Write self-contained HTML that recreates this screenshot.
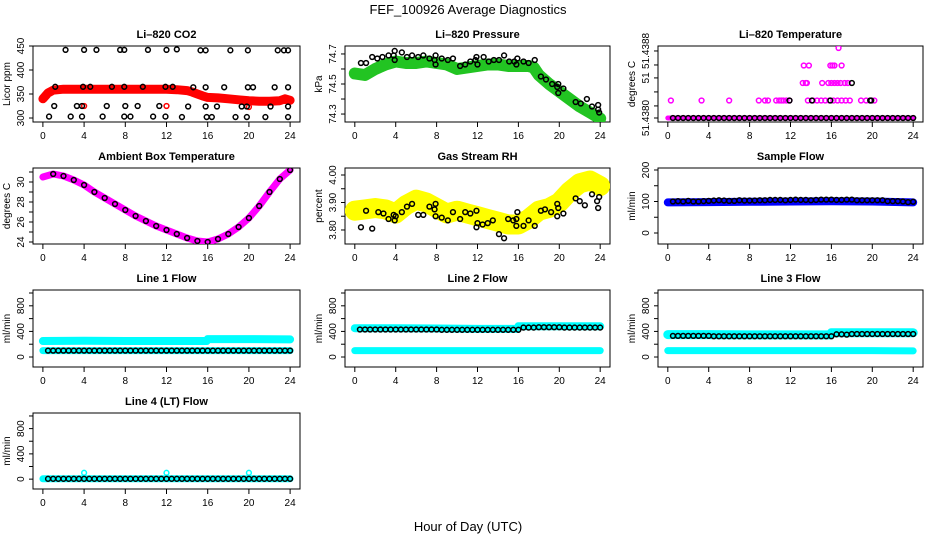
<!DOCTYPE html>
<html><head><meta charset="utf-8">
<style>
html,body{margin:0;padding:0;background:#fff;}
svg{display:block;font-family:"Liberation Sans",Arial,sans-serif;}
</style></head>
<body>
<svg id="chart" width="936" height="540" viewBox="0 0 936 540" xmlns="http://www.w3.org/2000/svg">
<rect width="936" height="540" fill="#fff"/>
<text x="468" y="14" font-size="13" text-anchor="middle">FEF_100926  Average Diagnostics</text>
<text x="468" y="531" font-size="13" text-anchor="middle">Hour of Day (UTC)</text>
</svg>
<script>
// ---------- shared data ----------
const xTicks = [0,4,8,12,16,20,24];
const T = [0.5,1,1.5,2,2.5,3,3.5,4,4.5,5,5.5,6,6.5,7,7.5,8,8.5,9,9.5,10,10.5,11,11.5,12,12.5,13,13.5,14,14.5,15,15.5,16,16.5,17,17.5,18,18.5,19,19.5,20,20.5,21,21.5,22,22.5,23,23.5,24];
const H = [0,1,2,3,4,5,6,7,8,9,10,11,12,13,14,15,16,17,18,19,20,21,22,23,24];

// CO2
const co2BandX = [0,0.5,1,2,4,6,8,10,12,13,14,14.5,15,15.5,16,17,18,19,20,21,22,23,23.5,24];
const co2BandY = [340,352,358,360,360,360,360,360,360,359,357,354,350,346,343,342,340,338,336,335,335,336,340,337];
const co2BlkX = [2.2,4,5.2,7.5,7.9,10.2,12,13,15.3,15.8,18.2,19.9,22.8,23.4,23.8,
 1.2,3.9,4.6,6.7,7.9,9.7,11.9,12.6,14.6,15.8,17.6,19.9,20.4,22.5,23.8,
 1.1,3.3,3.8,6.2,8,9.2,11.3,14.1,15.8,16.9,19.3,19.8,22.1,23.8,
 0.6,2.7,3.8,5.8,7.9,8.5,10.7,11.9,13.5,15.9,16.4,18.7,19.8,21.6,23.8];
const co2BlkY = [442,442,442,442,442,442,442,443,441,441,441,441,441,441,441,
 365,365,365,365,365,365,365,365,364,364,364,364,364,364,364,
 325,325,325,325,325,325,325,324,324,324,324,324,324,324,
 303,303,303,303,303,303,303,303,302,302,302,302,302,302,302];
const co2RedX = [4,12,20];
const co2RedY = [325,325,323];

// Pressure
const prBandX = [0,1,2,3,4,5,6,7,8,9,10,11,12,13,14,15,16,17,17.5,18,19,20,21,22,23,24];
const prBandY = [74.57,74.56,74.60,74.63,74.65,74.64,74.64,74.65,74.64,74.63,74.60,74.61,74.62,74.63,74.63,74.62,74.62,74.62,74.61,74.56,74.50,74.45,74.40,74.35,74.31,74.27];
const prBlkX = [0.6,1.1,1.7,2.2,2.7,3.3,3.8,3.9,3.9,4.6,5.1,5.6,6.2,6.7,7.3,7.8,7.9,7.9,8.5,9.1,9.6,10.3,10.8,11.3,11.8,11.9,12,12.6,13.1,13.6,14.1,14.6,15.1,15.6,15.8,15.9,16.5,17,17.6,18.2,18.7,19.3,19.8,19.9,19.9,20.4,21.6,22.1,22.7,23.2,23.8,23.8,23.9];
const prBlkY = [74.64,74.64,74.68,74.67,74.68,74.69,74.69,74.72,74.66,74.71,74.68,74.69,74.68,74.69,74.67,74.66,74.69,74.63,74.67,74.66,74.67,74.62,74.63,74.65,74.66,74.68,74.63,74.68,74.65,74.66,74.66,74.69,74.65,74.65,74.63,74.67,74.65,74.64,74.66,74.55,74.53,74.50,74.48,74.50,74.44,74.47,74.38,74.37,74.40,74.35,74.36,74.33,74.31];

// Li-820 temperature (level index 0..4)
const ltTickVals = [0,0.69,1.49,2.29,3.03,3.83];
const ltTickLabels = ["51.4380","","","51","","51.4388"];
const ltBaseX = [0,24];
const ltBaseY = [0,0];
const ltMagX = [0.3,3.3,6,8.9,9.5,9.8,10.6,10.9,11.1,11.3,11.6,11.9,13.7,14.2,14.6,15,15.4,15.8,16.2,16.6,17,17.4,17.8,18.9,19.4,19.8,20.2,
 13.2,13.5,13.6,15.1,15.7,16,16.3,16.6,16.9,17.3,17.6,
 13.3,13.8,15.9,16.1,16.3,17.0,
 16.7];
const ltMagY = [1,1,1,1,1,1,1,1,1,1,1,1,1,1,1,1,1,1,1,1,1,1,1,1,1,1,1,
 2,2,2,2,2,2,2,2,2,2,2,
 3,3,3,3,3,3,
 4];
const ltBlkY = [0,0,0,0,0,0,0,0,0,0,0,0,0,0,0,0,0,0,0,0,0,0,0,0,0,0,0,0,0,0,0,0,0,0,0,0,0,0,0,0,0,0,0,0,0,0,0,0];
const ltBlkX2 = [11.9,14.1,15.9,19.8,19.9,18];
const ltBlkY2 = [1,1,1,1,1,2];

// Ambient temperature
const ambY = [30.5,30.8,30.6,30.2,29.7,29.0,28.4,27.8,27.2,26.6,26.1,25.6,25.2,24.8,24.4,24.1,24.0,24.3,24.8,25.5,26.4,27.6,29.0,30.3,31.2];

// RH
const rhBandX = [0,1,2,3,4,5,6,7,8,9,10,11,12,13,14,15,16,17,18,19,20,21,22,23,24];
const rhBandY = [3.87,3.875,3.88,3.875,3.86,3.89,3.91,3.90,3.88,3.86,3.87,3.86,3.85,3.84,3.83,3.82,3.82,3.84,3.87,3.88,3.90,3.94,3.97,3.98,3.96];
const rhBlkX = [0.6,1.1,1.7,2.3,2.8,3.3,3.8,3.9,4.0,4.6,5.1,5.6,6.2,6.7,7.3,7.8,7.9,7.9,8.5,9.1,9.6,10.3,10.8,11.3,11.9,11.9,12,12.5,13,13.5,14.1,14.6,15,15.5,15.8,15.8,15.9,16.5,17,17.6,18.2,18.6,19.2,19.8,19.8,19.9,20.4,21.6,22,22.5,23.2,23.7,23.8,23.9];
const rhBlkY = [3.81,3.87,3.805,3.865,3.86,3.84,3.855,3.835,3.85,3.865,3.885,3.895,3.855,3.855,3.885,3.875,3.895,3.85,3.845,3.835,3.865,3.84,3.865,3.86,3.87,3.81,3.825,3.82,3.825,3.835,3.785,3.77,3.84,3.835,3.84,3.815,3.865,3.815,3.835,3.815,3.87,3.875,3.865,3.85,3.895,3.88,3.86,3.915,3.905,3.89,3.93,3.905,3.88,3.92];

// Sample flow
const sfBandX = [0,4,8,12,16,20,24];
const sfBandY = [97,98,99,100,101,100,97];
const sfBlkY = [100,101,100,102,100,100,101,102,103,104,103,102,102,104,103,103,103,104,104,105,105,105,104,105,106,105,105,104,105,106,106,106,105,105,106,106,104,104,104,104,104,104,101,101,101,100,98,99];

// Line flows
const l1BandX = [0,4,8,12,15.9,16,20,24];
const l1HiY = [250,255,250,250,250,280,280,275];
const l1LoY = [100,100,100,100,100,100,100,100];
const l1BlkY = [100,100,100,100,100,100,100,100,100,100,100,100,100,100,100,100,100,100,100,100,100,100,100,100,100,100,100,100,100,100,100,100,100,100,100,100,100,100,100,100,100,100,100,100,100,100,100,100];
const l2HiY = [450,450,445,440,440,480,480,480];
const l2LoY = [100,100,100,100,100,100,100,100];
const l2BlkY = [430,430,430,430,430,430,430,430,430,430,430,430,430,430,430,430,425,425,425,425,425,425,425,425,425,425,425,425,425,425,425,425,460,460,460,465,465,465,465,465,460,460,460,460,460,460,460,460];
const l3HiY = [350,350,345,345,345,380,380,380];
const l3LoY = [100,100,100,100,100,100,100,95];
const l3BlkY = [330,330,330,330,330,330,330,330,325,325,325,325,325,325,325,325,325,325,325,325,325,325,325,325,325,325,325,325,325,325,325,325,355,355,350,360,360,360,360,360,360,360,360,360,360,360,360,360];
const l4BandX = [0,24];
const l4BandY = [5,5];
const l4BlkY = [5,5,5,5,5,5,5,5,5,5,5,5,5,5,5,5,5,5,5,5,5,5,5,5,5,5,5,5,5,5,5,5,5,5,5,5,5,5,5,5,5,5,5,5,5,5,5,5];
const l4CyX = [4,12,20];
const l4CyY = [100,100,100];
const flowTicks = [0,200,400,600,800,1000];
const flowLabels = ["0","","400","","800",""];

// ---------- drawing ----------
const NS = "http://www.w3.org/2000/svg";
const svg = document.getElementById('chart');
const cols = [[33,300],[345,610],[658,923]];
const rows = [[46,122],[168,244],[290,367],[413,489]];
function mk(tag, attrs, parent){const e=document.createElementNS(NS,tag);for(const k in attrs)e.setAttribute(k,attrs[k]);(parent||svg).appendChild(e);return e;}

function panel(c,r,title,ylo,yhi,ticks,labels,ytitle,key){
  const [x0,x1]=cols[c],[y0,y1]=rows[r];
  const g=mk('g',{});
  
  
  const ax={g, x:h=>x0+(h+0.96)/25.92*(x1-x0), y:v=>y1-(v-ylo)/(yhi-ylo)*(y1-y0)};
  const t=mk('text',{x:(x0+x1)/2,y:y0-8,'font-size':11,'font-weight':'bold','text-anchor':'middle'},g);
  t.textContent=title;
  
  
  const box=mk('rect',{x:x0,y:y0,width:x1-x0,height:y1-y0,fill:'none',stroke:'#000','stroke-width':1},g);
  
  
  const xa=mk('g',{},g);
  
  
  mk('line',{x1:ax.x(0),x2:ax.x(24),y1:y1,y2:y1,stroke:'#000'},xa);
  xTicks.forEach(v=>{mk('line',{x1:ax.x(v),x2:ax.x(v),y1:y1,y2:y1+5,stroke:'#000'},xa);
    const l=mk('text',{x:ax.x(v),y:y1+17,'font-size':10,'text-anchor':'middle'},xa);l.textContent=v;});
  const ya=mk('g',{},g);
  
  
  mk('line',{x1:x0,x2:x0,y1:ax.y(ticks[0]),y2:ax.y(ticks[ticks.length-1]),stroke:'#000'},ya);
  ticks.forEach((v,i)=>{const yy=ax.y(v);mk('line',{x1:x0-4,x2:x0,y1:yy,y2:yy,stroke:'#000'},ya);
    if(labels[i]!==''){const l=mk('text',{x:x0-9,y:yy,'font-size':10,'text-anchor':'middle',transform:`rotate(-90 ${x0-9} ${yy})`},ya);l.textContent=labels[i];}});
  const yt=mk('text',{x:x0-23,y:(y0+y1)/2,'font-size':10,'text-anchor':'middle',transform:`rotate(-90 ${x0-23} ${(y0+y1)/2})`},g);
  yt.textContent=ytitle;
  
  
  // clip
  const cid='clip'+key;
  const cp=mk('clipPath',{id:cid},g);mk('rect',{x:x0,y:y0,width:x1-x0,height:y1-y0},cp);
  ax.data=mk('g',{'clip-path':`url(#${cid})`},g);
  
  
  return ax;
}
function band(ax,xs,ys,color,w,name){
  const d=xs.map((h,i)=>(i?'L':'M')+ax.x(h).toFixed(1)+','+ax.y(ys[i]).toFixed(1)).join('');
  const p=mk('path',{d,fill:'none',stroke:color,'stroke-width':w,'stroke-linecap':'round','stroke-linejoin':'round'},ax.data);
  
  
}
function pts(ax,xs,ys,color,name){
  const g=mk('g',{},ax.data);
  
  
  xs.forEach((h,i)=>{mk('circle',{cx:ax.x(h),cy:ax.y(ys[i]),r:2.4,fill:'none',stroke:color,'stroke-width':1.5},g);});
}

// Row 1
let a=panel(0,0,'Li\u2013820 CO2',291.7,450,[300,350,400,450],['300','350','400','450'],'Licor ppm','co2');
band(a,co2BandX,co2BandY,'#ff0000',9,'co2-red-series');
pts(a,co2RedX,co2RedY,'#ff0000','co2-red-points');
pts(a,co2BlkX,co2BlkY,'#000','co2-black-points');

a=panel(1,0,'Li\u2013820 Pressure',74.247,74.753,[74.3,74.4,74.5,74.6,74.7],['74.3','','74.5','','74.7'],'kPa','pressure');
band(a,prBandX,prBandY,'#22c422',12,'pressure-green-series');
pts(a,prBlkX,prBlkY,'#000','pressure-black-points');

a=panel(2,0,'Li\u2013820 Temperature',-0.229,4.114,ltTickVals,ltTickLabels,'degrees C','litemp');
band(a,ltBaseX,ltBaseY,'#ff00ff',5,'litemp-magenta-base');
pts(a,ltMagX,ltMagY,'#ff00ff','litemp-magenta-points');
pts(a,T,ltBlkY,'#000','litemp-black-points');
pts(a,ltBlkX2,ltBlkY2,'#000','litemp-black-points-upper');

// Row 2
a=panel(0,1,'Ambient Box Temperature',23.8,31.4,[24,25,26,27,28,29,30,31],['24','','26','','28','','30',''],'degrees C','ambient');
band(a,H,ambY,'#ff00ff',7,'ambient-magenta-series');
pts(a,H.slice(1),ambY.slice(1),'#000','ambient-black-points');

a=panel(1,1,'Gas Stream RH',3.749,4.0255,[3.80,3.85,3.90,3.95,4.00],['3.80','','3.90','','4.00'],'percent','rh');
band(a,rhBandX,rhBandY,'#ffff00',20,'rh-yellow-series');
pts(a,rhBlkX,rhBlkY,'#000','rh-black-points');

a=panel(2,1,'Sample Flow',-34.9,206.3,[0,50,100,150,200],['0','','100','','200'],'ml/min','sampleflow');
band(a,sfBandX,sfBandY,'#0000ff',8,'sampleflow-blue-series');
pts(a,T,sfBlkY,'#000','sampleflow-black-points');

// Row 3
a=panel(0,2,'Line 1 Flow',-156,1047,flowTicks,flowLabels,'ml/min','line1');
band(a,l1BandX,l1HiY,'#00ffff',8,'line1-cyan-high');
band(a,l1BandX,l1LoY,'#00ffff',7,'line1-cyan-low');
pts(a,T,l1BlkY,'#000','line1-black-points');

a=panel(1,2,'Line 2 Flow',-156,1047,flowTicks,flowLabels,'ml/min','line2');
band(a,l1BandX,l2HiY,'#00ffff',8,'line2-cyan-high');
band(a,l1BandX,l2LoY,'#00ffff',7,'line2-cyan-low');
pts(a,T,l2BlkY,'#000','line2-black-points');

a=panel(2,2,'Line 3 Flow',-156,1047,flowTicks,flowLabels,'ml/min','line3');
band(a,l1BandX,l3HiY,'#00ffff',9,'line3-cyan-high');
band(a,l1BandX,l3LoY,'#00ffff',7,'line3-cyan-low');
pts(a,T,l3BlkY,'#000','line3-black-points');

// Row 4
a=panel(0,3,'Line 4 (LT) Flow',-156,1047,flowTicks,flowLabels,'ml/min','line4');
band(a,l4BandX,l4BandY,'#00ffff',7,'line4-cyan-series');
pts(a,l4CyX,l4CyY,'#00ffff','line4-cyan-points');
pts(a,T,l4BlkY,'#000','line4-black-points');
</script>
</body></html>
